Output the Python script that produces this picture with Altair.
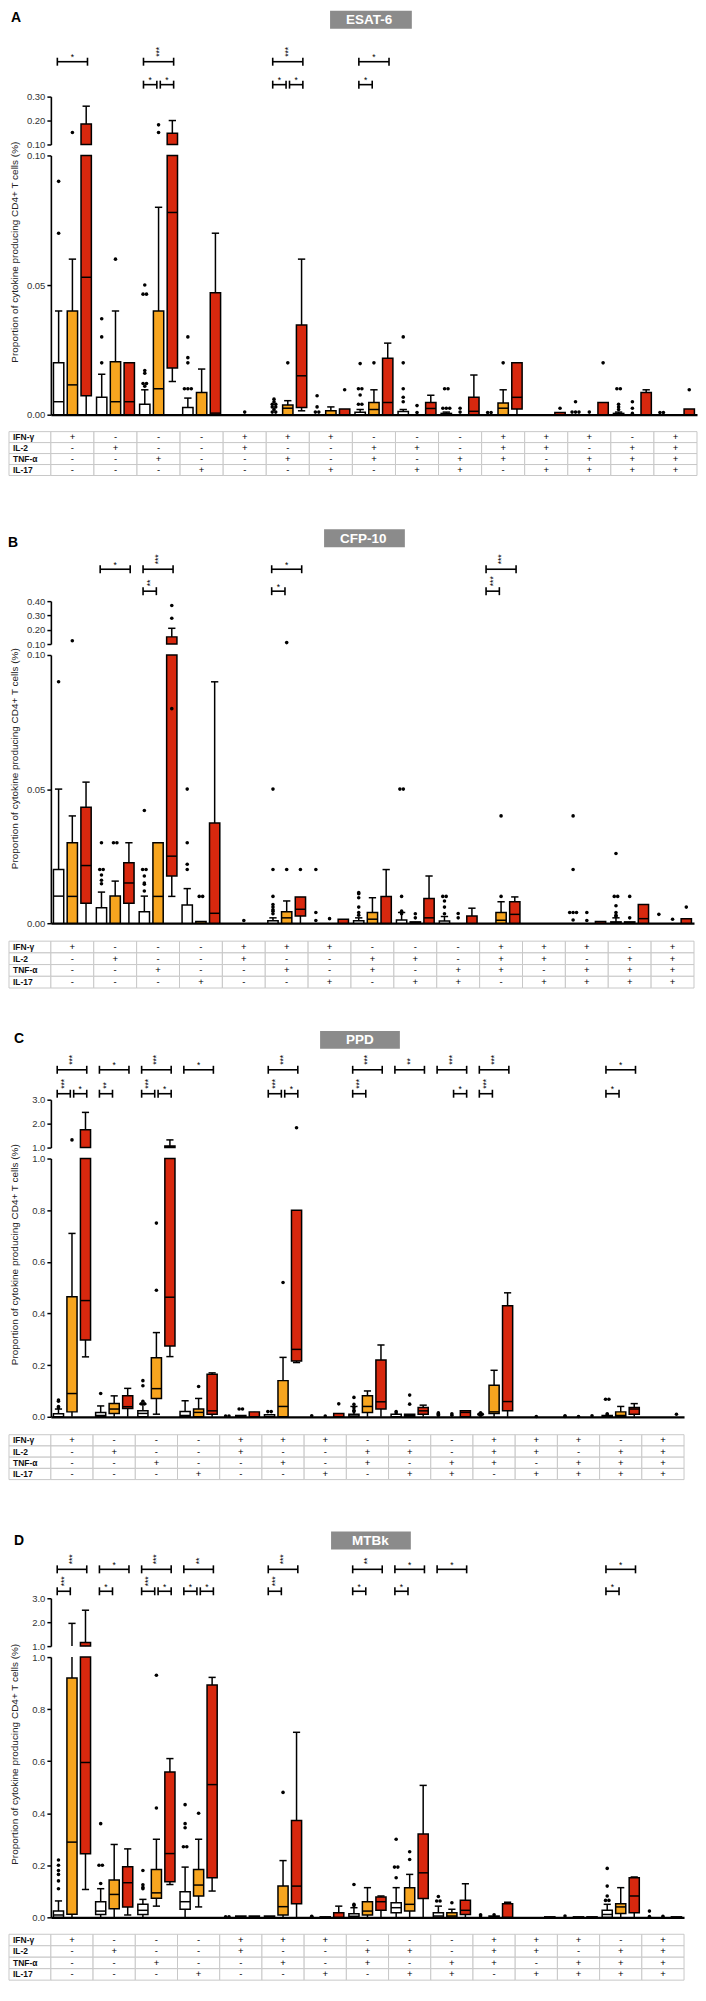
import altair as alt
import pandas as pd

# ------------------------------------------------------------------ data
cytokine_rows = ["IFN-γ", "IL-2", "TNF-α", "IL-17"]
ifng_signs = ["+", "-", "-", "-", "+", "+", "+", "-", "-", "-", "+", "+", "+", "-", "+"]
il2_signs = ["-", "+", "-", "-", "+", "-", "-", "+", "+", "-", "+", "+", "-", "+", "+"]
tnfa_signs = ["-", "-", "+", "-", "-", "+", "-", "+", "-", "+", "+", "-", "+", "+", "+"]
il17_signs = ["-", "-", "-", "+", "-", "-", "+", "-", "+", "+", "-", "+", "+", "+", "+"]

Z = [0, 0, 0, 0, 0]
# each box: [lower whisker, Q1, median, Q3, upper whisker]  (% of CD4+ T cells)

# ---- A : ESAT-6
A_white = [[0, 0, 0.005, 0.02, 0.04], [0, 0, 0, 0.0067, 0.0156], [0, 0, 0, 0.004, 0.0096],
           [0, 0, 0, 0.0028, 0.0064], Z, Z, Z, [0, 0, 0, 0.0009, 0.002], [0, 0, 0, 0.0012, 0.002],
           [0, 0, 0, 0.0005, 0.001], Z, Z, Z, [0, 0, 0, 0.0005, 0.001], Z]
A_white_out = [[0.09, 0.07], [0.037, 0.03, 0.02], [0.05, 0.0465, 0.0465, 0.017, 0.016, 0.012, 0.012, 0.011],
               [0.03, 0.022, 0.02, 0.01, 0.01, 0.01], [], [0.006, 0.005, 0.004, 0.004, 0.003, 0.003, 0.002, 0.001, 0.001],
               [0.0073, 0.003, 0.001, 0.001], [0.0197, 0.01, 0.01, 0.0076, 0.004, 0.004],
               [0.03, 0.02, 0.01, 0.0067, 0.005], [0.01, 0.01, 0.0025, 0.0025, 0.0025], [0.0008, 0.0008], [],
               [0.005, 0.001, 0.001, 0.001], [0.01, 0.01, 0.004, 0.003, 0.002], [0.0008, 0.0008]]
A_orange = [[0, 0, 0.0115, 0.04, 0.06], [0, 0, 0.005, 0.0204, 0.04], [0, 0, 0.01, 0.04, 0.08],
            [0, 0, 0, 0.0086, 0.0176], Z, [0, 0, 0.0025, 0.0037, 0.0054], [0, 0, 0, 0.0015, 0.003],
            [0, 0, 0.002, 0.0047, 0.0096], Z, Z, [0, 0, 0.0025, 0.0045, 0.0096], Z, Z, Z, Z]
A_orange_out = [[0.15], [0.06], [0.182, 0.15], [], [0.001], [0.02], [], [0.02], [0.0035, 0.0008],
                [0.0025, 0.001], [0.02], [], [0.001], [0.005, 0.0025, 0.0005], []]
A_red = [[0, 0.0073, 0.053, 0.186, 0.26], [0, 0, 0.005, 0.02, 0.02], [0.0128, 0.018, 0.078, 0.147, 0.20],
         [0, 0, 0.0006, 0.047, 0.07], Z, [0.0015, 0.0028, 0.015, 0.0346, 0.06], [0, 0, 0, 0.0022, 0.0022],
         [0, 0, 0.0047, 0.0218, 0.0276], [0, 0, 0.0024, 0.0047, 0.0075], [0, 0, 0.0013, 0.0067, 0.0153],
         [0, 0.0022, 0.0067, 0.02, 0.02], [0, 0, 0, 0.0008, 0.0008], [0, 0, 0, 0.0047, 0.0047],
         [0, 0, 0, 0.0086, 0.0096], [0, 0, 0, 0.0022, 0.0022]]
A_red_out = [[], [], [], [], [], [], [0.0096], [], [], [], [], [0.0025], [0.02], [], [0.0096]]
A_sig = [(0, 0, 2, 1, "*"), (2, 0, 2, 1, "***"), (2, 0, 1, 2, "*"), (2, 1, 2, 2, "*"), (5, 0, 2, 1, "***"),
         (5, 0, 1, 2, "*"), (5, 1, 2, 2, "*"), (7, 0, 2, 1, "*"), (7, 0, 1, 2, "*")]

# ---- B : CFP-10
B_white = [[0, 0, 0.0101, 0.02, 0.05], [0, 0, 0, 0.0058, 0.0116], [0, 0, 0, 0.0043, 0.0101],
           [0, 0, 0, 0.0068, 0.0129], Z, [0, 0, 0, 0.0009, 0.002], Z, [0, 0, 0, 0.0009, 0.002],
           [0, 0, 0, 0.0012, 0.004], [0, 0, 0, 0.0008, 0.0025], Z, Z, Z, [0, 0, 0, 0.0005, 0.002], Z]
B_white_out = [[0.09], [0.03, 0.02, 0.02, 0.018, 0.016, 0.0147], [0.042, 0.02, 0.02, 0.0176, 0.015, 0.0145, 0.012],
               [0.05, 0.03, 0.022, 0.02], [], [0.05, 0.02, 0.01, 0.007, 0.006, 0.005, 0.0045, 0.0035],
               [0.02, 0.004, 0.001], [0.0114, 0.011, 0.0095, 0.006, 0.004, 0.003], [0.05, 0.05, 0.01, 0.0045, 0.0035],
               [0.01, 0.01, 0.0083, 0.006, 0.0035], [], [], [0.04, 0.02, 0.004, 0.004, 0.004, 0.0012],
               [0.026, 0.01, 0.01, 0.0065, 0.004, 0.003, 0.0025], [0.0033]]
B_orange = [[0, 0, 0.01, 0.03, 0.04], [0, 0, 0, 0.0101, 0.0157], [0, 0, 0.01, 0.03, 0.03],
            [0, 0, 0, 0.0006, 0.0006], Z, [0, 0, 0.002, 0.0043, 0.0083], Z, [0, 0, 0.0015, 0.004, 0.0095],
            [0, 0, 0, 0.0005, 0.0005], Z, [0, 0, 0.0011, 0.004, 0.008], Z, Z, [0, 0, 0, 0.0005, 0.0005], Z]
B_orange_out = [[0.123], [0.03, 0.03], [], [0.01, 0.01], [0.001], [0.11, 0.02], [0.0017], [], [0.0035, 0.002],
                [0.002, 0.0036], [0.04, 0.01], [], [0.004, 0.001], [0.01, 0.002], [0.0015]]
B_red = [[0, 0.0074, 0.0215, 0.0432, 0.0526], [0, 0.0074, 0.015, 0.0225, 0.03], [0.01, 0.0176, 0.025, 0.15, 0.21],
         [0, 0, 0.0037, 0.0374, 0.09], Z, [0, 0.0027, 0.0052, 0.0098, 0.0098], [0, 0, 0, 0.0015, 0.0015],
         [0, 0, 0, 0.01, 0.02], [0, 0, 0.002, 0.0092, 0.0176], [0, 0, 0, 0.0027, 0.0056],
         [0, 0, 0.0033, 0.008, 0.0098], Z, [0, 0, 0, 0.0006, 0.0006], [0, 0, 0.0017, 0.007, 0.007],
         [0, 0, 0, 0.0017, 0.0017]]
B_red_out = [[], [], [0.37, 0.28, 0.08], [], [], [0.02], [], [], [], [], [], [], [], [], [0.006]]
B_sig = [(1, 0, 2, 1, "*"), (2, 0, 2, 1, "***"), (2, 0, 1, 2, "**"), (5, 0, 2, 1, "*"), (5, 0, 1, 2, "*"),
         (10, 0, 2, 1, "***"), (10, 0, 1, 2, "***")]

# ---- C : PPD
C_white = [[0, 0, 0, 0.012, 0.03], [0, 0, 0.005, 0.017, 0.042], [0, 0, 0.013, 0.023, 0.049],
           [0, 0, 0.005, 0.02, 0.062], Z, [0, 0, 0, 0.008, 0.008], Z, [0, 0, 0.003, 0.01, 0.04],
           [0, 0, 0, 0.01, 0.01], Z, Z, Z, Z, [0, 0, 0, 0.005, 0.005], Z]
C_white_out = [[0.065, 0.06, 0.04, 0.035], [0.09], [0.14, 0.12, 0.06, 0.05, 0.05], [], [0.003, 0.003],
               [0.02, 0.02], [0.004], [0.075, 0.048, 0.035, 0.025, 0.02], [0.02, 0.015],
               [0.015, 0.012, 0.01, 0.005], [0.015, 0.01, 0.01, 0.005], [], [0.004, 0.001],
               [0.068, 0.068, 0.012, 0.008], []]
C_orange = [[0, 0.019, 0.09, 0.465, 0.71], [0, 0.013, 0.03, 0.051, 0.081], [0.01, 0.071, 0.109, 0.229, 0.326],
            [0, 0, 0.017, 0.03, 0.071], [0, 0, 0, 0.005, 0.005], [0, 0, 0.04, 0.14, 0.23], Z,
            [0, 0.017, 0.04, 0.081, 0.1], [0, 0, 0.006, 0.01, 0.01], Z, [0, 0.013, 0.019, 0.122, 0.18], Z, Z,
            [0, 0, 0.005, 0.019, 0.04], Z]
C_orange_out = [[1.32], [], [0.75, 0.49], [0.117], [0.03, 0.03], [0.52], [0.003], [], [0.084, 0.049],
                [0.012, 0.006], [], [0.001], [0.001], [], []]
C_red = [[0.232, 0.297, 0.45, 1.74, 2.47], [0, 0.032, 0.039, 0.081, 0.11], [0.233, 0.274, 0.463, 1.07, 1.32],
         [0, 0.01, 0.023, 0.165, 0.17], [0, 0, 0, 0.019, 0.019], [0.21, 0.216, 0.261, 0.80, 0.80],
         [0, 0, 0, 0.013, 0.013], [0, 0.03, 0.058, 0.22, 0.278], [0, 0.01, 0.023, 0.036, 0.045],
         [0, 0, 0.017, 0.023, 0.023], [0, 0.023, 0.059, 0.43, 0.48], Z, Z, [0, 0.01, 0.03, 0.036, 0.051], Z]
C_red_out = [[], [], [], [], [], [1.83], [0.05], [], [], [], [], [], [0.004], [], [0.01]]
C_sig = [(0, 0, 2, 1, "***"), (0, 0, 1, 2, "***"), (0, 1, 2, 2, "*"), (1, 0, 2, 1, "*"), (1, 0, 1, 2, "**"),
         (2, 0, 2, 1, "***"), (2, 0, 1, 2, "***"), (2, 1, 2, 2, "*"), (3, 0, 2, 1, "*"), (5, 0, 2, 1, "***"),
         (5, 0, 1, 2, "***"), (5, 1, 2, 2, "*"), (7, 0, 2, 1, "***"), (7, 0, 1, 2, "***"), (8, 0, 2, 1, "**"),
         (9, 0, 2, 1, "***"), (9, 1, 2, 2, "*"), (10, 0, 2, 1, "***"), (10, 0, 1, 2, "***"),
         (13, 0, 2, 1, "*"), (13, 0, 1, 2, "*")]

# ---- D : MTBk
D_white = [[0, 0, 0.009, 0.024, 0.063], [0, 0.011, 0.024, 0.06, 0.11], [0, 0.011, 0.027, 0.05, 0.069],
           [0, 0.031, 0.06, 0.098, 0.193], Z, [0, 0, 0, 0.005, 0.005], Z, [0, 0, 0.004, 0.014, 0.037],
           [0, 0.018, 0.037, 0.056, 0.114], [0, 0, 0.005, 0.018, 0.043], Z, Z, Z,
           [0, 0, 0.011, 0.027, 0.05], Z]
D_white_out = [[0.22, 0.2, 0.18, 0.165, 0.14, 0.11], [0.36, 0.2, 0.2, 0.13], [0.18, 0.125, 0.115, 0.11],
               [0.433, 0.36, 0.344, 0.271, 0.271], [0.002, 0.002], [], [0.004, 0.002], [0.126, 0.05, 0.045],
               [0.3, 0.193, 0.193, 0.152], [0.08, 0.063, 0.063], [0.01, 0.005], [], [0.005],
               [0.188, 0.12, 0.082, 0.065, 0.065], [0.024, 0.003]]
D_orange = [[0, 0.012, 0.289, 0.92, 1.95], [0, 0.033, 0.088, 0.143, 0.28], [0.043, 0.073, 0.094, 0.184, 0.30],
            [0.04, 0.082, 0.124, 0.184, 0.30], [0, 0, 0, 0.005, 0.005], [0, 0.009, 0.041, 0.12, 0.218],
            [0, 0, 0, 0.002, 0.002], [0, 0.009, 0.024, 0.06, 0.114], [0, 0.024, 0.05, 0.114, 0.165],
            [0, 0, 0.005, 0.018, 0.031], [0, 0, 0, 0.005, 0.005], Z, [0, 0, 0, 0.002, 0.002],
            [0, 0.015, 0.04, 0.052, 0.114], Z]
D_orange_out = [[], [], [0.93, 0.42], [0.40], [], [0.48], [], [], [0.252, 0.222], [0.056], [0.01], [], [], [],
                [0.004]]
D_red = [[0.107, 0.244, 0.595, 1.15, 2.5], [0.009, 0.04, 0.133, 0.194, 0.263], [0.126, 0.137, 0.245, 0.558, 0.61],
         [0.101, 0.152, 0.51, 0.893, 0.922], [0, 0, 0, 0.005, 0.005], [0, 0.052, 0.12, 0.372, 0.711],
         [0, 0, 0, 0.018, 0.043], [0, 0.027, 0.06, 0.078, 0.082], [0, 0.072, 0.171, 0.32, 0.507],
         [0, 0.011, 0.027, 0.066, 0.129], [0, 0, 0, 0.052, 0.058], [0, 0, 0, 0.002, 0.002],
         [0, 0, 0, 0.002, 0.002], [0, 0.018, 0.082, 0.152, 0.155], [0, 0, 0, 0.002, 0.002]]
D_red_out = [[], [], [], [], [], [], [], [], [], [], [], [], [], [], []]
D_sig = [(0, 0, 2, 1, "***"), (0, 0, 1, 2, "***"), (1, 0, 2, 1, "*"), (1, 0, 1, 2, "*"), (2, 0, 2, 1, "***"),
         (2, 0, 1, 2, "***"), (2, 1, 2, 2, "*"), (3, 0, 2, 1, "**"), (3, 0, 1, 2, "*"), (3, 1, 2, 2, "*"),
         (5, 0, 2, 1, "***"), (5, 0, 1, 2, "***"), (7, 0, 2, 1, "**"), (7, 0, 1, 2, "*"), (8, 0, 2, 1, "*"),
         (8, 0, 1, 2, "*"), (9, 0, 2, 1, "*"), (13, 0, 2, 1, "*"), (13, 0, 1, 2, "*")]

# ------------------------------------------------------------------ style / layout
YTITLE = "Proportion of cytokine producing CD4+ T cells (%)"
COLORS = ["#ffffff", "#f7a51f", "#d8280e"]
FONT = "Liberation Sans"
OFF, HW, CAP = 0.32, 0.12, 0.085
LINE = 1.5
AX = dict(grid=False, domainColor="black", domainWidth=1.6, tickColor="black", tickWidth=1.5, tickSize=4,
          labelFontSize=9.5, labelColor="#333333", labelPadding=2, labelFont=FONT)

PANELS = [
    dict(letter="A", title="ESAT-6", W=648, ax=50, hh=86, ly=7, bx=(330, 412), by=0, tx=346, r1=51, r2=74,
         uh=48, udom=[0.1, 0.3], uvals=[0.1, 0.2, 0.3], fmt=".2f", lh=260, gap=11, ldom=[0, 0.1],
         lvals=[0, 0.05, 0.1], tg=17, th=44,
         data=(A_white, A_orange, A_red, A_white_out, A_orange_out, A_red_out, A_sig)),
    dict(letter="B", title="CFP-10", W=645, ax=53, hh=126, ly=68, bx=(327, 408), by=54, tx=343, r1=94, r2=116,
         uh=43, udom=[0.1, 0.4], uvals=[0.1, 0.2, 0.3, 0.4], fmt=".2f", lh=269, gap=11, ldom=[0, 0.1],
         lvals=[0, 0.05, 0.1], tg=18, th=47,
         data=(B_white, B_orange, B_red, B_white_out, B_orange_out, B_red_out, B_sig)),
    dict(letter="C", title="PPD", W=635, ax=47, hh=112, ly=51, bx=(317, 397), by=43, tx=343, r1=82, r2=106,
         uh=48, udom=[1, 3], uvals=[1, 2, 3], fmt=".1f", lh=259, gap=11, ldom=[0, 1],
         lvals=[0, 0.2, 0.4, 0.6, 0.8, 1.0], tg=18, th=45,
         data=(C_white, C_orange, C_red, C_white_out, C_orange_out, C_red_out, C_sig)),
    dict(letter="D", title="MTBk", W=635, ax=47, hh=119, ly=62, bx=(328, 408), by=52, tx=349, r1=90, r2=112,
         uh=48, udom=[1, 3], uvals=[1, 2, 3], fmt=".1f", lh=261, gap=11, ldom=[0, 1],
         lvals=[0, 0.2, 0.4, 0.6, 0.8, 1.0], tg=17, th=46,
         data=(D_white, D_orange, D_red, D_white_out, D_orange_out, D_red_out, D_sig)),
]

XS = alt.Scale(domain=[0, 15], zero=False, nice=False)


def box_table(white, orange, red):
    recs = []
    for k, arr in enumerate((white, orange, red)):
        for g, s in enumerate(arr):
            recs.append({"g": g, "k": k, "lo": s[0], "q1": s[1], "med": s[2], "q3": s[3], "hi": s[4]})
    return pd.DataFrame(recs)


def outlier_table(white, orange, red):
    recs = []
    for k, arr in enumerate((white, orange, red)):
        for g, vals in enumerate(arr):
            seen = {}
            for v in vals:
                i = seen.get(v, 0)
                seen[v] = i + 1
                recs.append({"g": g, "k": k, "v": v, "j": i - (vals.count(v) - 1) / 2})
    return pd.DataFrame(recs)


def plot_chart(bdf, odf, W, H, dom, rng, vals, fmt, lower, title_y=0):
    lo_d, hi_d = dom
    if rng is not None:
        ys = alt.Scale(domain=dom, range=rng, clamp=True, zero=False, nice=False)
    else:
        ys = alt.Scale(domain=dom, clamp=True, zero=False, nice=False)
    if lower:
        xa = alt.Axis(title=None, labels=False, ticks=False, grid=False, domain=True,
                      domainColor="black", domainWidth=2.2)
        ya = alt.Axis(values=vals, format=fmt, title=YTITLE, titleX=-36, titleY=title_y, titleAngle=270,
                      titleAlign="center", titleBaseline="middle", titleFontSize=10,
                      titleFontWeight="normal", titleColor="#222222", titleFont=FONT, **AX)
    else:
        xa = None
        ya = alt.Axis(values=vals, format=fmt, title=None, **AX)

    def X(f):
        return alt.X(f + ":Q", scale=XS, axis=xa)

    def Y(f):
        return alt.Y(f + ":Q", scale=ys, axis=ya)

    bb = (alt.Chart(bdf)
          .transform_calculate(xc=f"datum.g + 0.5 + (datum.k - 1) * {OFF}")
          .transform_calculate(xl=f"datum.xc - {HW}")
          .transform_calculate(xr=f"datum.xc + {HW}")
          .transform_calculate(cl=f"datum.xc - {CAP}")
          .transform_calculate(cr=f"datum.xc + {CAP}"))
    if lower:
        fw = "datum.hi > datum.lo"
        fb = "datum.q3 > datum.q1"
        fm = f"datum.q3 > datum.q1 && datum.med > datum.q1 && datum.med < {hi_d}"
        fch = f"datum.hi > datum.q3 && datum.hi <= {hi_d}"
        fo = f"datum.v <= {hi_d}"
    else:
        fw = f"datum.hi > {lo_d} && datum.hi > datum.lo"
        fb = f"datum.q3 > {lo_d} && datum.q3 > datum.q1"
        fm = f"datum.med > {lo_d}"
        fch = f"datum.hi > datum.q3 && datum.hi > {lo_d}"
        fo = f"datum.v > {lo_d}"

    layers = [
        bb.transform_filter(fw).mark_rule(color="black", strokeWidth=LINE).encode(
            x=X("xc"), y=Y("lo"), y2="hi"),
        bb.transform_filter(fb).mark_rect(stroke="black", strokeWidth=LINE).encode(
            x=X("xl"), x2="xr", y=Y("q1"), y2="q3",
            fill=alt.Fill("k:N", scale=alt.Scale(domain=[0, 1, 2], range=COLORS), legend=None)),
        bb.transform_filter(fm).mark_rule(color="black", strokeWidth=LINE).encode(
            x=X("xl"), x2="xr", y=Y("med")),
        bb.transform_filter(fch).mark_rule(color="black", strokeWidth=LINE).encode(
            x=X("cl"), x2="cr", y=Y("hi")),
    ]
    if lower:
        layers.append(bb.transform_filter("datum.lo > 0 && datum.lo < datum.q1")
                      .mark_rule(color="black", strokeWidth=LINE).encode(x=X("cl"), x2="cr", y=Y("lo")))
    layers.append(
        alt.Chart(odf)
        .transform_calculate(xo=f"datum.g + 0.5 + (datum.k - 1) * {OFF} + datum.j * 0.08")
        .transform_filter(fo)
        .mark_circle(size=13, color="black", opacity=1)
        .encode(x=X("xo"), y=Y("v")))
    return alt.layer(*layers).properties(width=W, height=H)


def table_chart(W, gap, th):
    gw = W / 15
    rowh = th / 4
    ys = alt.Scale(domain=[4, -gap / rowh], zero=False, nice=False)
    labx = -42 / gw
    signs = [ifng_signs, il2_signs, tnfa_signs, il17_signs]
    cells, labels = [], []
    for r, name in enumerate(cytokine_rows):
        cells.append({"x0": labx, "x1": 0, "r0": r, "r1": r + 1})
        labels.append({"name": name, "x": labx, "rm": r + 0.5})
        for g in range(15):
            cells.append({"x0": g, "x1": g + 1, "r0": r, "r1": r + 1})
            labels.append({"name": signs[r][g], "x": g + 0.5, "rm": r + 0.5})
    cdf = pd.DataFrame(cells)
    ldf = pd.DataFrame(labels)
    X = lambda f: alt.X(f + ":Q", scale=XS, axis=None)
    Y = lambda f: alt.Y(f + ":Q", scale=ys, axis=None)
    rects = alt.Chart(cdf).mark_rect(fill="white", stroke="#c8c8c8", strokeWidth=1).encode(
        x=X("x0"), x2="x1", y=Y("r0"), y2="r1")
    names = alt.Chart(ldf).transform_filter("datum.x < 0").mark_text(
        align="left", dx=4, fontSize=8.5, fontWeight="bold", color="#111111").encode(
        x=X("x"), y=Y("rm"), text="name:N")
    sgn = alt.Chart(ldf).transform_filter("datum.x > 0").mark_text(
        align="center", fontSize=9.5, color="#000000").encode(x=X("x"), y=Y("rm"), text="name:N")
    return alt.layer(rects, names, sgn).properties(width=W, height=gap + th)


def header_chart(p, sig):
    W, H = p["W"], p["hh"]
    gw = W / 15
    conv = lambda px: (px - p["ax"]) / gw
    ys = alt.Scale(domain=[H, 0], zero=False, nice=False)
    X = lambda f: alt.X(f + ":Q", scale=XS, axis=None)
    Y = lambda f: alt.Y(f + ":Q", scale=ys, axis=None)
    let = pd.DataFrame([{"t": p["letter"], "x": conv(10), "y": p["ly"]}])
    box = pd.DataFrame([{"x0": conv(p["bx"][0]), "x1": conv(p["bx"][1]), "y0": p["by"], "y1": p["by"] + 18,
                         "tx": conv(p["tx"]), "ty": p["by"] + 9.5, "t": p["title"]}])
    br, caps = [], []
    for (g, k1, k2, row, lab) in sig:
        c1 = g + 0.5 + (k1 - 1) * OFF
        c2 = g + 0.5 + (k2 - 1) * OFF
        a = c1 - 0.03 if k1 == 0 else c1 + 0.04
        b = c2 + 0.03 if k2 == 2 else c2 - 0.04
        lvl = p["r1"] if row == 1 else p["r2"]
        br.append({"xa": a, "xb": b, "xm": (a + b) / 2, "lvl": lvl, "ly": lvl - 1.5, "lv": lvl - 4,
                   "lab": lab, "n": len(lab)})
        for e in (a, b):
            caps.append({"x": e, "y0": lvl - 4, "y1": lvl + 4})
    bdf = pd.DataFrame(br)
    cdf = pd.DataFrame(caps)
    layers = [
        alt.Chart(let).mark_text(align="left", baseline="middle", fontSize=14, fontWeight="bold",
                                 color="black").encode(x=X("x"), y=Y("y"), text="t:N"),
        alt.Chart(box).mark_rect(fill="#8b8b8b").encode(x=X("x0"), x2="x1", y=Y("y0"), y2="y1"),
        alt.Chart(box).mark_text(align="left", baseline="middle", fontSize=13.5, fontWeight="bold",
                                 color="white").encode(x=X("tx"), y=Y("ty"), text="t:N"),
        alt.Chart(bdf).mark_rule(color="black", strokeWidth=1.6).encode(x=X("xa"), x2="xb", y=Y("lvl")),
        alt.Chart(cdf).mark_rule(color="black", strokeWidth=1.6).encode(x=X("x"), y=Y("y0"), y2="y1"),
        alt.Chart(bdf).transform_filter("datum.n == 1").mark_text(
            align="center", baseline="alphabetic", fontSize=8.5, color="black").encode(
            x=X("xm"), y=Y("ly"), text="lab:N"),
        alt.Chart(bdf).transform_filter("datum.n > 1").mark_text(
            align="left", baseline="middle", angle=270, fontSize=8.5, color="black", dx=1).encode(
            x=X("xm"), y=Y("lv"), text="lab:N"),
    ]
    return alt.layer(*layers).properties(width=W, height=H)


subcharts = []
for p in PANELS:
    w, o, r, wo, oo, ro, sig = p["data"]
    bdf = box_table(w, o, r)
    odf = outlier_table(wo, oo, ro)
    low_total = p["gap"] + p["lh"]
    title_y = (p["uh"] + low_total) / 2 - p["uh"] - 4
    subcharts.append(header_chart(p, sig))
    subcharts.append(plot_chart(bdf, odf, p["W"], p["uh"], p["udom"], None, p["uvals"], p["fmt"], False))
    subcharts.append(plot_chart(bdf, odf, p["W"], low_total, p["ldom"], [low_total, p["gap"]],
                                p["lvals"], p["fmt"], True, title_y))
    subcharts.append(table_chart(p["W"], p["tg"], p["th"]))

chart = (alt.vconcat(*subcharts, spacing=0, bounds="flush")
         .properties(padding=0)
         .configure(font=FONT)
         .configure_view(strokeWidth=0))

chart.save("out.html", embed_options={"renderer": "svg", "actions": False})
